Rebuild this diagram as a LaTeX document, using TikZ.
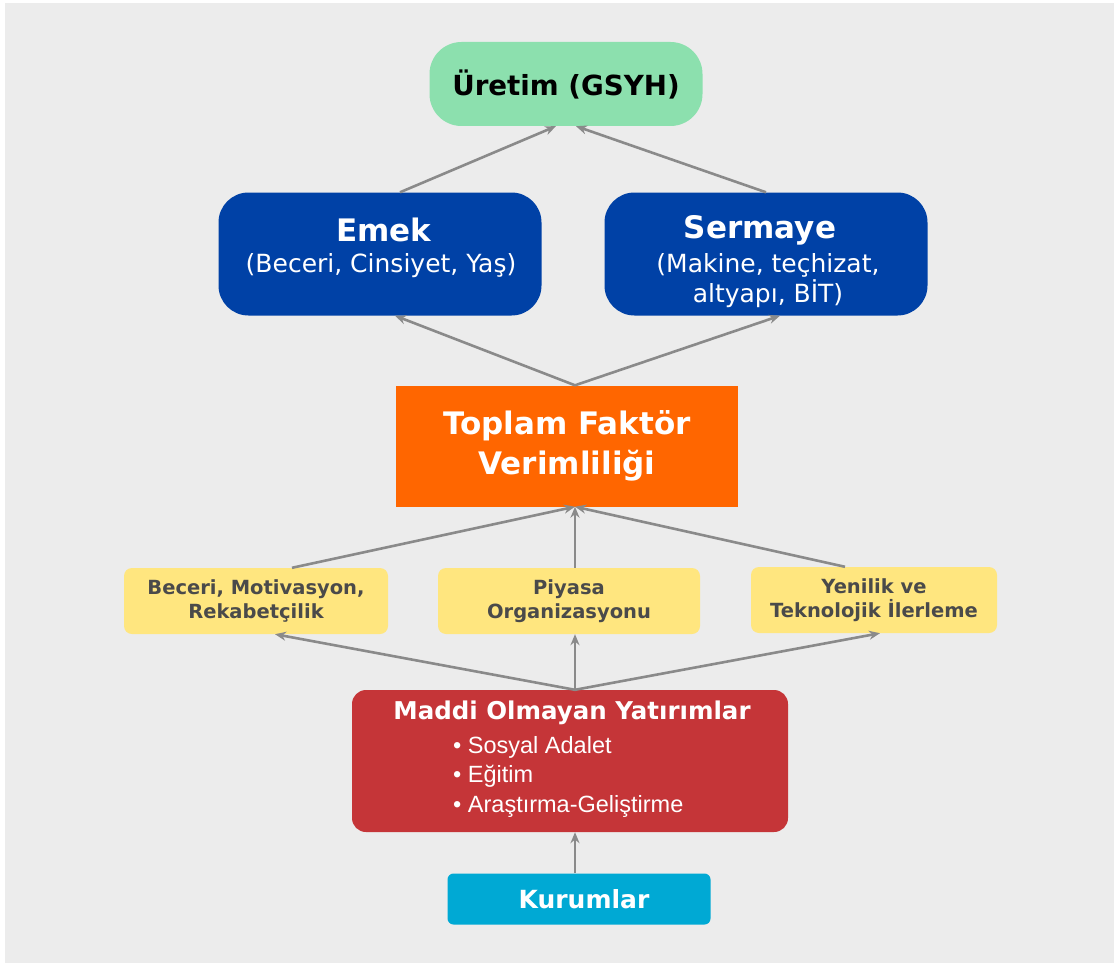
\documentclass[tikz,border=0pt]{standalone}
\usepackage{fontspec}
\setmainfont{DejaVu Sans}
\newfontfamily\arialf{Liberation Sans}
\usetikzlibrary{arrows.meta}
\definecolor{bg}{HTML}{ECECEC}
\definecolor{uret}{HTML}{8CE0AE}
\definecolor{dblue}{HTML}{0041A6}
\definecolor{orng}{HTML}{FF6600}
\definecolor{ylw}{HTML}{FFE67F}
\definecolor{ytxt}{HTML}{4A4A4A}
\definecolor{rd}{HTML}{C53538}
\definecolor{cyanb}{HTML}{00A9D4}
\definecolor{arr}{HTML}{8A8A8A}
\tikzset{
  box/.style={inner sep=0pt, align=center},
  con/.style={draw=arr, line width=2.6pt, -{Stealth[length=11pt,width=9pt]}},
}
\begin{document}
\begin{tikzpicture}[x=1pt,y=-1pt]
\useasboundingbox (0,0) rectangle (1114,963);
\fill[white] (0,0) rectangle (1114,963);
\fill[bg] (5,3) rectangle (1114,963);

\node[box, fill=uret, rounded corners=32pt, minimum width=273pt, minimum height=84pt, font=\bfseries\fontsize{27.7}{32}\selectfont] (ur) at (566,84) {Üretim (GSYH)};

\node[box, fill=dblue, rounded corners=30pt, minimum width=323pt, minimum height=123pt] (emek) at (380,254) {};
\node[text=white, font=\bfseries\fontsize{31}{34}\selectfont] (emekt) at (384,230) {Emek};
\node[text=white, font=\fontsize{25}{30}\selectfont, align=center] (emeks) at (381,266) {(Beceri, Cinsiyet, Yaş)};

\node[box, fill=dblue, rounded corners=30pt, minimum width=323pt, minimum height=123pt] (serm) at (766,254) {};
\node[text=white, font=\bfseries\fontsize{31}{34}\selectfont] (sermt) at (760,230) {Sermaye};
\node[text=white, font=\fontsize{25}{30}\selectfont, align=center] (serms) at (768,281) {(Makine, teçhizat,\\altyapı, BİT)};

\node[box, fill=orng, minimum width=342pt, minimum height=121pt, text=white, font=\bfseries\fontsize{31}{40}\selectfont] (tfv) at (567,446) {Toplam Faktör\\Verimliliği};

\tikzset{ybox/.style={box, fill=ylw, rounded corners=8pt, minimum height=66pt, text=ytxt, font=\bfseries\fontsize{19.5}{24}\selectfont}}
\node[ybox, minimum width=264pt] (y1) at (256,601) {Beceri, Motivasyon,\\Rekabetçilik};
\node[ybox, minimum width=262pt] (y2) at (569,601) {Piyasa\\Organizasyonu};
\node[ybox, minimum width=246pt] (y3) at (874,600) {Yenilik ve\\Teknolojik İlerleme};

\node[box, fill=rd, rounded corners=14pt, minimum width=436pt, minimum height=142pt] (mo) at (570,761) {};
\node[text=white, font=\bfseries\fontsize{24.5}{28}\selectfont] (mot) at (572,713) {Maddi Olmayan Yatırımlar};
\node[text=white, font=\arialf\fontsize{23.5}{29.5}\selectfont, align=left, anchor=north west, inner sep=0pt] (mol) at (453,736) {• Sosyal Adalet\\• Eğitim\\• Araştırma-Geliştirme};

\node[box, fill=cyanb, rounded corners=6pt, minimum width=263pt, minimum height=51pt] (kur) at (579,899) {};
\node[text=white, font=\bfseries\fontsize{25}{28}\selectfont] (kurt) at (584,899) {Kurumlar};

\draw[con] ([xshift=20pt]emek.north) -- ([xshift=-10pt]ur.south);
\draw[con] (serm.north) -- ([xshift=10pt]ur.south);
\draw[con] ([xshift=8pt]tfv.north) -- ([xshift=15pt]emek.south);
\draw[con] ([xshift=8pt]tfv.north) -- ([xshift=14pt]serm.south);
\draw[con] ([xshift=36pt]y1.north) -- ([xshift=8pt]tfv.south);
\draw[con] ([xshift=6pt]y2.north) -- ([xshift=8pt]tfv.south);
\draw[con] ([xshift=-29pt]y3.north) -- ([xshift=8pt]tfv.south);
\draw[con] ([xshift=5pt]mo.north) -- ([xshift=19pt]y1.south);
\draw[con] ([xshift=5pt]mo.north) -- ([xshift=6pt]y2.south);
\draw[con] ([xshift=5pt]mo.north) -- ([xshift=6pt]y3.south);
\draw[con] ([xshift=-4pt]kur.north) -- ([xshift=5pt]mo.south);
\end{tikzpicture}
\end{document}
